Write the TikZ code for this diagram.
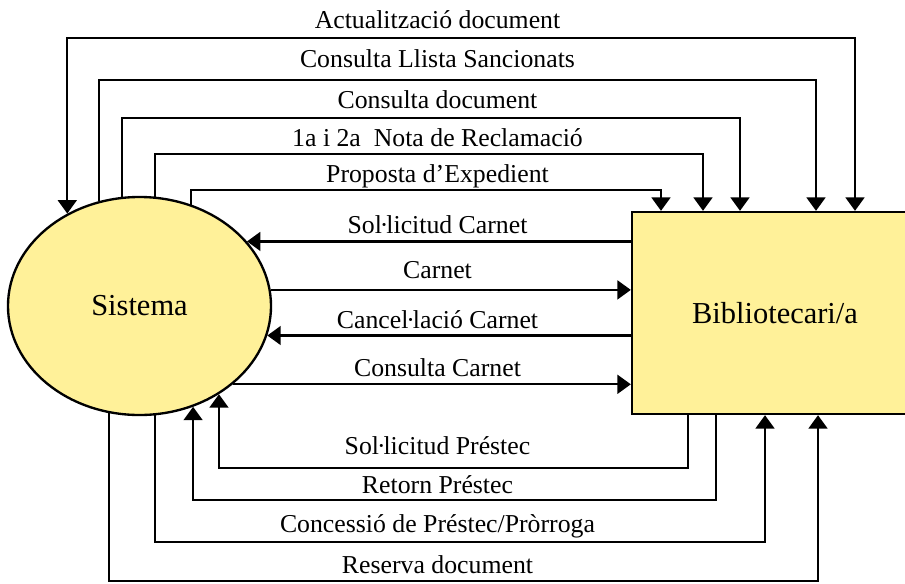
\documentclass[tikz,border=0pt]{standalone}
\usepackage{fontspec}
\setmainfont{Liberation Serif}
\usetikzlibrary{arrows.meta,shapes.geometric}
\definecolor{paleyellow}{RGB}{255,241,153}
% tight middle dot for the "l·l" ligature
\newcommand{\geminada}{\kern-0.08em·\kern-0.08em}

\begin{document}
\begin{tikzpicture}[x=0.03cm, y=-0.03cm,
    >={Triangle[width=0.56cm,length=0.4cm]},
    flowline/.style={line width=2pt},
    lbl/.style={font=\fontsize{22}{26}\selectfont, anchor=base, inner sep=0pt},
    entity/.style={draw, line width=2pt, fill=paleyellow, inner sep=0pt,
      font=\fontsize{26}{30}\selectfont}]
    \useasboundingbox (0,0) rectangle (905,583);

    % The two entities
    \node[entity, ellipse, minimum width=7.89cm, minimum height=6.54cm]
      (sys) at (139.5,306) {Sistema};
    \node[entity, rectangle, minimum width=8.58cm, minimum height=6.06cm]
      (bib) at (775,313) {Bibliotecari/a};

    % Flows over the top
    \draw[flowline,<->] (sys.128) |- (855,38) -- (bib.north -| 855,0);
    \node[lbl] (actdoc) at (437.5,28) {Actualització document};

    \draw[flowline,->] (sys.111.9) |- (816,80) -- (bib.north -| 816,0);
    \node[lbl] (llista) at (437.5,67) {Consulta Llista Sancionats};

    \draw[flowline,->] (sys.99.7) |- (740,118) -- (bib.north -| 740,0);
    \node[lbl] (consdoc) at (437.5,108) {Consulta document};

    \draw[flowline,->] (sys.82.9) |- (703,154) -- (bib.north -| 703,0);
    \node[lbl] (nota) at (437.5,146) {1a i 2a~ Nota de Reclamació};

    \draw[flowline,->] (sys.63.9) |- (661,190) -- (bib.north -| 661,0);
    \node[lbl] (proposta) at (437.5,182) {Proposta d’Expedient};

    % Flows straight across
    \draw[flowline,->] (bib.west |- sys.31.6) -- (sys.31.6);
    \node[lbl] (solcarnet) at (437.5,233) {Sol\geminada licitud Carnet};

    \draw[flowline,->] (sys.7.5) -- (sys.7.5 -| bib.west);
    \node[lbl] (carnet) at (437.5,278) {Carnet};

    \draw[flowline,->] (bib.west |- sys.-13.8) -- (sys.-13.8);
    \node[lbl] (cancel) at (437.5,328) {Cancel\geminada lació Carnet};

    \draw[flowline,->] (sys.-40.3) -- (sys.-40.3 -| bib.west);
    \node[lbl] (conscarnet) at (437.5,376) {Consulta Carnet};

    % Flows underneath
    \draw[flowline,->] (bib.south -| 688,0) -- (688,468) -| (sys.-48.1);
    \node[lbl] (solprestec) at (437.5,454) {Sol\geminada licitud Préstec};

    \draw[flowline,->] (bib.south -| 716,0) -- (716,500) -| (sys.-62.3);
    \node[lbl] (retorn) at (437.5,493) {Retorn Préstec};

    \draw[flowline,->] (sys.-82.9) |- (765,542) -- (bib.south -| 765,0);
    \node[lbl] (concessio) at (437.5,532) {Concessió de Préstec/Pròrroga};

    \draw[flowline,->] (sys.-106.1) |- (818,581) -- (bib.south -| 818,0);
    \node[lbl] (reserva) at (437.5,573) {Reserva document};
\end{tikzpicture}
\end{document}
